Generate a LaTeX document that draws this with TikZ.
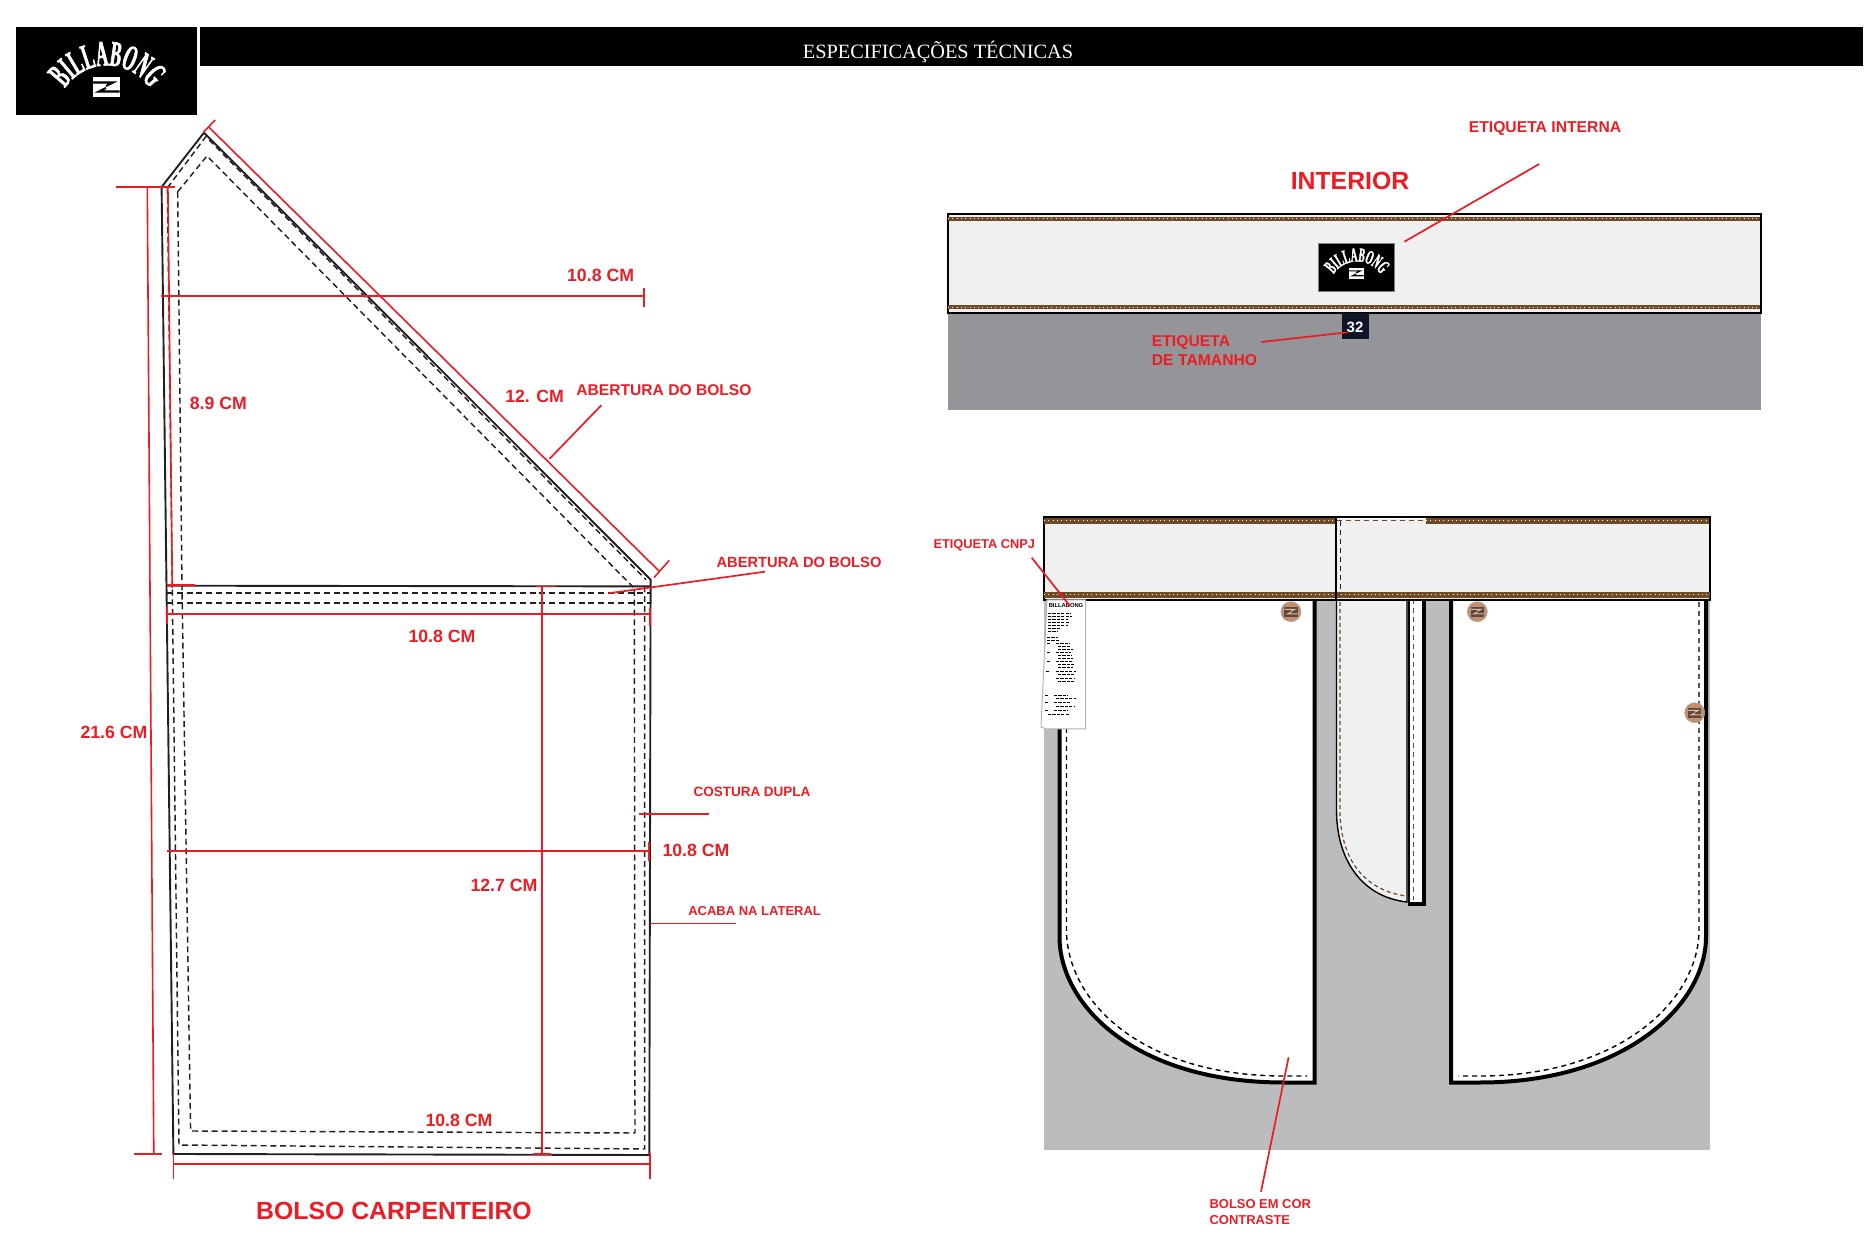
\documentclass[tikz,border=0pt]{standalone}
\usepackage{fontspec}
\setmainfont{Liberation Sans}
\newfontfamily\titlefont{Liberation Serif}
\newfontfamily\logofont{Liberation Serif}[FakeStretch=0.46,FakeBold=1.6]
\usetikzlibrary{positioning}
\usetikzlibrary{decorations.text}

\definecolor{vermelho}{HTML}{ED1C24}
\definecolor{contorno}{HTML}{231F20}
\definecolor{costura}{HTML}{6F4A25}
\definecolor{cos}{HTML}{F0F0F0}
\definecolor{cinza}{HTML}{BBBCBE}
\definecolor{cinzaesc}{HTML}{939598}
\definecolor{botao}{HTML}{C1906F}
\definecolor{marinho}{HTML}{0D1425}

\newcommand{\logofontbig}{\fontsize{18}{18}\logofont\bfseries}
\newcommand{\logofontsmall}{\fontsize{10}{10}\logofont\bfseries}

% marca de ondas: x, y, escala, fundo, onda
\newcommand{\wavemark}[5]{
  \begin{scope}[shift={(#1,#2)},scale=#3]
    \fill[#4] (-13.5,-10) rectangle (13.5,10);
    \draw[#5,line width=#3*1.1pt] (-13.5,-4.5)--(7,-4.5)--(0,-1);
    \draw[#5,line width=#3*1.1pt] (13.5,4.5)--(-7,4.5)--(0,1);
  \end{scope}
}
% logotipo: x, y, escala, fonte
\newcommand{\billogo}[4]{
  \begin{scope}[shift={(#1,#2)},scale=#3]
    \path[decorate,decoration={text along path,text={|#4|BILLABONG},text align=center,text color=white}]
      (-43,21) .. controls (-22,-13) and (24,-13) .. (46,21);
  \end{scope}
  \wavemark{#1}{#2+17*#3}{#3}{white}{black}
}

\tikzset{
  x=0.5pt, y=-0.5pt,
  pocket/.style={contorno, line width=0.95pt},
  dashline/.style={contorno, line width=0.72pt, dash pattern=on 3pt off 1.9pt},
  medida/.style={vermelho, line width=0.8pt},
  leader/.style={vermelho, line width=0.85pt},
  dimlabel/.style={text=vermelho, font=\fontsize{8.85}{10}\selectfont\bfseries, inner sep=0pt},
  heading/.style={text=vermelho, font=\fontsize{12.5}{14}\selectfont\bfseries, inner sep=0pt},
  note/.style={text=vermelho, inner sep=0pt, align=left},
  bolso/.style={fill=white, draw=black, line width=2pt, line join=miter},
  stitchdash/.style={costura, line width=0.6pt, dash pattern=on 2.5pt off 2pt},
  blackdash/.style={black, line width=0.7pt, dash pattern=on 2.5pt off 2pt},
  waist/.style={fill=cos, draw=black, line width=1pt},
  buttonmark/.style={circle, fill=botao, draw=gray!70, line width=0.3pt, minimum size=10pt, inner sep=0pt},
}
\newcommand{\stitchband}[3]{
  \draw[costura, line width=#3] (#1)--(#2);
  \draw[white, line width=0.5pt, dash pattern=on 0.5pt off 1.65pt] (#1)--(#2);
}

\begin{document}
\begin{tikzpicture}
  \useasboundingbox (0,0) rectangle (1876,1251);

  % cabecalho
  \fill[black] (16,27) rectangle (197,115);
  \fill[black] (199.5,27) rectangle (1863,66);
  \billogo{106}{70}{1}{\logofontbig}
  \node[text=white, inner sep=0pt, font=\fontsize{10.15}{12}\titlefont] (titulo) at (938,51.5) {ESPECIFICAÇÕES TÉCNICAS};

  % bolso carpenteiro
  \draw[pocket] (204,132.7)--(161.6,187)--(166.5,585.7)--(173.4,1154)--(649.3,1155)--(650.6,579.6)--cycle;
  \draw[pocket] (166.5,585.7)--(650.6,586.4);
  \draw[dashline] (167.4,187.8)--(205.8,136.7)--(646,579.6);
  \draw[dashline] (167.4,187.8)--(172.3,587)--(179,1145)--(644.7,1149)--(644.7,586);
  \draw[dashline] (177.7,191.8)--(207,156)--(633,587);
  \draw[dashline] (177.7,191.8)--(182,587)--(190.6,1131)--(635,1133)--(634.3,586);
  \draw[dashline] (167,593)--(651,593);
  \draw[dashline] (167,603)--(650,603);

  % medidas
  \draw[medida] (209,127.3)--(659.4,571.4);
  \draw[medida] (215.2,120)--(203,132.7);
  \draw[medida] (669.2,560.4)--(654,577.6);
  \draw[medida] (160.7,296.3)--(644.2,296.3);
  \draw[medida] (644.2,288)--(644.2,307);
  \draw[medida] (116,187.3)--(175,187.3);
  \draw[medida] (147.3,187.3)--(153.8,1154);
  \draw[medida] (133.8,1154)--(161.9,1154);
  \draw[medida] (167.9,187.8)--(172.3,587.8);
  \draw[medida] (166.5,585.3)--(194.6,585.3);
  \draw[medida, line width=1pt] (167.6,613.8)--(648.7,613.8);
  \draw[medida, line width=1pt] (167.4,607)--(167.4,624.5);
  \draw[medida, line width=1pt] (650,608)--(650,626);
  \draw[medida] (542,586.4)--(542,1154);
  \draw[medida] (535.5,586.4)--(555.5,586.4);
  \draw[medida] (532.7,1154)--(551,1154);
  \draw[medida, line width=0.9pt] (167,851.3)--(648.7,851.3);
  \draw[medida, line width=0.9pt] (648.7,842)--(648.7,860.6);
  \draw[medida, line width=0.9pt] (173.4,1163.8)--(650,1163.8);
  \draw[medida] (173.4,1153)--(173.4,1179);
  \draw[medida] (650,1153)--(650,1179);
  \draw[leader] (639,813.9)--(709,813.9);
  \draw[leader] (650.4,923.6)--(736,923.6);
  \draw[leader] (601.3,405.3)--(549.6,458.8);
  \draw[leader] (765,571.7)--(608.3,593.3);

  \node[dimlabel] (m1) at (600.6,275) {10.8 CM};
  \node[dimlabel] (m2) at (534.6,396) {12. CM};
  \node[dimlabel] (m3) at (218.3,403) {8.9 CM};
  \node[dimlabel] (m4) at (442,636) {10.8 CM};
  \node[dimlabel] (m5) at (114,732) {21.6 CM};
  \node[dimlabel] (m6) at (696,850) {10.8 CM};
  \node[dimlabel] (m7) at (504,885.3) {12.7 CM};
  \node[dimlabel] (m8) at (459,1120) {10.8 CM};
  \node[note, font=\fontsize{7.8}{9}\selectfont\bfseries] (ab1) at (664,390) {ABERTURA DO BOLSO};
  \node[note, font=\fontsize{7.35}{9}\selectfont\bfseries] (ab2) at (799,562) {ABERTURA DO BOLSO};
  \node[note, font=\fontsize{6.75}{8}\selectfont\bfseries] (cd) at (752,791.4) {COSTURA DUPLA};
  \node[note, font=\fontsize{6.5}{8}\selectfont\bfseries] (al) at (754.6,911) {ACABA NA LATERAL};
  \node[heading, font=\fontsize{12.4}{14}\selectfont\bfseries] (bc) at (394,1211.4) {BOLSO CARPENTEIRO};

  % interior
  \fill[cinzaesc] (948,312) rectangle (1761,410);
  \draw[waist] (947.8,214.5) rectangle (1760.8,312.8);
  \stitchband{948,219}{1760,219}{2pt}
  \stitchband{948,307.5}{1760,307.5}{2pt}
  \fill[black] (1318.2,244) rectangle (1394.5,291.3);
  \draw[gray, line width=0.5pt] (1318.2,244) rectangle (1394.5,291.3);
  \billogo{1356.3}{264}{0.55}{\logofontsmall}
  \fill[marinho] (1341.8,313.3) rectangle (1368.7,338.7);
  \node[text=white, inner sep=0pt, font=\fontsize{7.5}{9}\selectfont\bfseries] (tam) at (1355,327.3) {32};
  \node[heading, font=\fontsize{12.4}{14}\selectfont\bfseries] (interior) at (1350,181) {INTERIOR};
  \node[note, font=\fontsize{7.85}{9}\selectfont\bfseries] (ei) at (1545,129) {ETIQUETA INTERNA};
  \draw[leader] (1539.3,164)--(1404.4,241.7);
  \node[note, anchor=west, font=\fontsize{7.85}{9.5}\selectfont\bfseries] (et) at (1151.5,351) {ETIQUETA\\DE TAMANHO};
  \draw[leader] (1261.2,342)--(1347.9,332.3);

  % calca com bolsos
  \fill[cinza] (1043.9,598) rectangle (1710,1150);
  \draw[bolso] (1059.5,599)--(1059.5,936.7) .. controls (1059.5,1005) and (1135,1082.5) .. (1284,1082.5)--(1314.5,1082.5)--(1314.5,599);
  \draw[bolso] (1451,599)--(1451,1082.5)--(1480,1082.5) .. controls (1625,1082.5) and (1706,1005) .. (1706,936.7)--(1706,599);
  \draw[blackdash] (1066.5,602)--(1066.5,930) .. controls (1066.5,1000) and (1140,1076) .. (1284,1076)--(1307,1076);
  \draw[blackdash] (1699,602)--(1699,930) .. controls (1699,1000) and (1620,1076) .. (1480,1076)--(1458.5,1076);

  % braguilha
  \fill[cos, draw=black, line width=0.7pt] (1336.5,599)--(1336.5,810) .. controls (1336.5,860) and (1362,897) .. (1407,902)--(1407,599);
  \fill[white] (1409,599) rectangle (1423,903);
  \draw[black, line width=1.2pt] (1409,599)--(1409,903);
  \draw[black, line width=2pt] (1423.5,599)--(1423.5,903.5)--(1407.5,903.5);
  \draw[stitchdash, dash pattern=on 2pt off 1.5pt] (1340,602)--(1340,815) .. controls (1342,860) and (1364,890) .. (1406,896);
  \draw[stitchdash, line width=0.4pt] (1413.3,599)--(1413.3,900);

  % cos
  \draw[waist] (1043.8,517) rectangle (1710,599.8);
  \stitchband{1044,521}{1336,521}{3pt}
  \stitchband{1426,521}{1709,521}{3pt}
  \stitchband{1044,595}{1710,595}{3pt}
  \draw[black, line width=0.8pt] (1336,517)--(1336,599);
  \fill[white] (1337,518) rectangle (1426,519.5);
  \draw[stitchdash, line width=0.4pt] (1337,520.6)--(1426,520.6);
  \draw[contorno, line width=0.4pt, dash pattern=on 2.5pt off 2pt] (1340.5,521)--(1340.5,590);

  % etiqueta cnpj
  \fill[white, draw=gray!60, line width=0.5pt] (1047,600)--(1085.7,600)--(1085.7,729)--(1046,729)--(1041,727)--cycle;
  \node[inner sep=0pt, font=\fontsize{2.9}{3}\selectfont\bfseries] (tagtopo) at (1066,606) {BILLABONG};
  \foreach \tx/\ty/\tl in {1048/613/23,1048/616/24,1048/619/20,1048/622/22,1048/625/20,1048/628/12,1048/631/9,1047/637/11,1047/640/12,1047/643/3,1056/643/14,1058/646/13,1058/649/15,1047/652/3,1056/652/15,1058/655/14,1058/658/15,1047/661/3,1056/661/16,1058/664/17,1058/667/15,1046/671/3,1056/671/20,1058/674/16,1056/678/18,1058/681/16,1045/695/3,1054/695/14,1056/698/20,1045/702/3,1054/702/16,1056/706/18,1045/710/3,1054/710/14,1048/714/22}{
    \draw[black, line width=0.4pt, dash pattern=on 1.6pt off 0.6pt] (\tx,\ty)--++(\tl,0);
  }

  % botoes
  \foreach \bx/\by/\bn in {1291/611.7/bot1,1477.3/611.7/bot2,1694.7/712.7/bot3}{
    \node[buttonmark] (\bn) at (\bx,\by) {};
    \wavemark{\bx}{\by}{0.5}{botao!50!black}{botao!60!white}
  }

  \node[note, font=\fontsize{6.4}{8}\selectfont\bfseries] (cnpj) at (984.3,545.6) {ETIQUETA CNPJ};
  \draw[leader] (1031.7,557.7)--(1070,606);
  \node[note, anchor=north west, font=\fontsize{6.47}{8}\selectfont\bfseries] (bec) at (1209.2,1199.5) {BOLSO EM COR\\CONTRASTE};
  \draw[leader] (1288.6,1057.3)--(1261,1191.7);
\end{tikzpicture}
\end{document}
